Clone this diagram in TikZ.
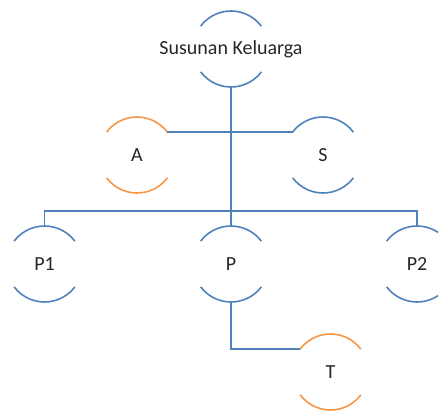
\documentclass[tikz,border=0pt]{standalone}
\usepackage{fontspec}
\setmainfont{Carlito}
\definecolor{linkblue}{HTML}{4F81BD}
\definecolor{accentorange}{HTML}{F79646}
\definecolor{labelgray}{HTML}{262626}
\begin{document}
\begin{tikzpicture}[x=1pt,y=-1pt,
  member/.style={circle,draw=none,minimum size=76pt,inner sep=0pt,outer sep=0pt,
    font=\fontsize{20}{24}\selectfont,text=labelgray},
  link/.style={draw=linkblue,line width=1.6pt},
  arcpen/.style={line width=1.6pt}]
\useasboundingbox (0,0) rectangle (438,412);

% family members (zero-width labels keep every circle the same size)
\node[member] (top) at (231,49) {\makebox[0pt]{Susunan Keluarga}};
\node[member] (A)   at (137,155) {A};
\node[member] (S)   at (323,155) {S};
\node[member] (P1)  at (44.5,264) {P1};
\node[member] (P)   at (231,264) {P};
\node[member] (P2)  at (417,264) {P2};
\node[member] (T)   at (330.5,372) {T};

% open circles: only the upper and lower arcs are drawn
\newcommand{\capsarcs}[2]{%
  \draw[arcpen,draw=#2] (#1.37) arc[start angle=37,end angle=143,radius=38pt];
  \draw[arcpen,draw=#2] (#1.-143) arc[start angle=-143,end angle=-37,radius=38pt];}
\capsarcs{top}{linkblue}
\capsarcs{A}{accentorange}
\capsarcs{S}{linkblue}
\capsarcs{P1}{linkblue}
\capsarcs{P}{linkblue}
\capsarcs{P2}{linkblue}
\capsarcs{T}{accentorange}

% connectors
\coordinate (bus) at (231,211);
\draw[link] (top.south) -- (P.north);
\draw[link] (A.37) -- (S.143);
\draw[link] (P1.north) |- (bus) -| (P2.north);
\draw[link] (P.south) |- (T.143);
\end{tikzpicture}
\end{document}
